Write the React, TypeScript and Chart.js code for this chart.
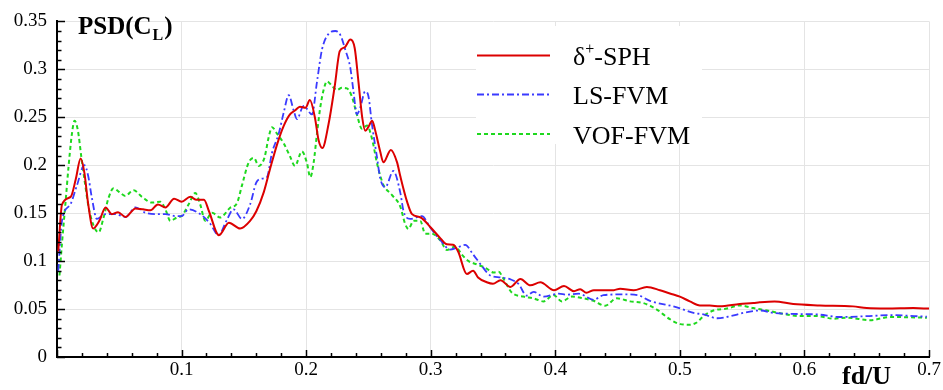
import React, { useEffect, useRef } from "react";
import { Chart, registerables } from "chart.js";

Chart.register(...registerables);

// [fd/U, PSD(C_L)] pairs
const SPH_DATA: [number, number][] = [
  [0.001, 0.110], [0.004, 0.159], [0.011, 0.167], [0.015, 0.185], [0.019, 0.207], [0.022, 0.192],
  [0.025, 0.160], [0.029, 0.134], [0.034, 0.142], [0.039, 0.156], [0.044, 0.149], [0.049, 0.151],
  [0.055, 0.146], [0.063, 0.155], [0.069, 0.154], [0.075, 0.153], [0.081, 0.159], [0.087, 0.156],
  [0.094, 0.165], [0.100, 0.162], [0.107, 0.167], [0.112, 0.164], [0.118, 0.164], [0.122, 0.152],
  [0.130, 0.127], [0.138, 0.140], [0.147, 0.134], [0.155, 0.142], [0.160, 0.152], [0.166, 0.172],
  [0.171, 0.196], [0.177, 0.223], [0.182, 0.241], [0.187, 0.253], [0.191, 0.257], [0.195, 0.261],
  [0.1995, 0.260], [0.203, 0.268], [0.207, 0.250], [0.210, 0.226], [0.213, 0.218], [0.218, 0.243],
  [0.223, 0.283], [0.227, 0.319], [0.231, 0.323], [0.2355, 0.331], [0.239, 0.322], [0.242, 0.287],
  [0.245, 0.250], [0.2475, 0.236], [0.250, 0.240], [0.253, 0.2465], [0.2555, 0.236], [0.2595, 0.214],
  [0.262, 0.203], [0.268, 0.216], [0.273, 0.203], [0.2755, 0.189], [0.281, 0.162], [0.285, 0.149],
  [0.292, 0.1455], [0.300, 0.135], [0.308, 0.1235], [0.313, 0.1175], [0.318, 0.117], [0.322, 0.110],
  [0.329, 0.0865], [0.334, 0.090], [0.338, 0.083], [0.345, 0.078], [0.350, 0.0764], [0.356, 0.080],
  [0.364, 0.073], [0.372, 0.0814], [0.380, 0.0747], [0.388, 0.078], [0.399, 0.0697], [0.407, 0.074],
  [0.415, 0.0687], [0.420, 0.0707], [0.425, 0.067], [0.431, 0.0697], [0.447, 0.0697], [0.452, 0.0713],
  [0.463, 0.0697], [0.4735, 0.073], [0.484, 0.0697], [0.492, 0.0663], [0.500, 0.063], [0.508, 0.058],
  [0.516, 0.0538], [0.524, 0.0538], [0.532, 0.0528], [0.548, 0.0552], [0.559, 0.0562], [0.564, 0.057],
  [0.576, 0.058], [0.591, 0.0552], [0.6125, 0.0538], [0.639, 0.0528], [0.650, 0.051], [0.666, 0.0505],
  [0.6875, 0.051], [0.700, 0.0505],
];

const LS_DATA: [number, number][] = [
  [0.001, 0.090], [0.004, 0.142], [0.0107, 0.159], [0.016, 0.179], [0.022, 0.200], [0.025, 0.189],
  [0.028, 0.166], [0.032, 0.144], [0.0388, 0.149], [0.0468, 0.149], [0.055, 0.146], [0.063, 0.156],
  [0.071, 0.1505], [0.079, 0.149], [0.087, 0.149], [0.095, 0.147], [0.100, 0.147], [0.1056, 0.154],
  [0.115, 0.149], [0.123, 0.139], [0.1297, 0.127], [0.136, 0.142], [0.1417, 0.154], [0.1485, 0.144],
  [0.155, 0.159], [0.160, 0.182], [0.1645, 0.186], [0.1685, 0.1875], [0.1726, 0.213], [0.178, 0.233],
  [0.182, 0.255], [0.186, 0.273], [0.190, 0.257], [0.1926, 0.248], [0.198, 0.262], [0.2047, 0.253],
  [0.2087, 0.287], [0.2127, 0.3205], [0.218, 0.337], [0.2234, 0.340], [0.2274, 0.336], [0.2314, 0.3205],
  [0.2354, 0.302], [0.238, 0.277], [0.2407, 0.253], [0.2434, 0.260], [0.2474, 0.277], [0.250, 0.272],
  [0.2528, 0.243], [0.2568, 0.209], [0.2595, 0.186], [0.2635, 0.177], [0.270, 0.194], [0.2755, 0.172],
  [0.2782, 0.152], [0.2835, 0.144], [0.293, 0.147], [0.2996, 0.135], [0.3076, 0.122], [0.3156, 0.112],
  [0.321, 0.114], [0.3277, 0.117], [0.334, 0.107], [0.341, 0.095], [0.3478, 0.085], [0.356, 0.083],
  [0.364, 0.081], [0.3706, 0.076], [0.377, 0.064], [0.3826, 0.068], [0.3906, 0.063], [0.4026, 0.066],
  [0.4093, 0.065], [0.419, 0.066], [0.4307, 0.0596], [0.4387, 0.0646], [0.4548, 0.0653], [0.466, 0.0646],
  [0.476, 0.0586], [0.4976, 0.0518], [0.511, 0.046], [0.519, 0.0444], [0.530, 0.0404], [0.541, 0.0427],
  [0.551, 0.046], [0.5645, 0.0485], [0.575, 0.046], [0.589, 0.045], [0.610, 0.0444], [0.6285, 0.0417],
  [0.652, 0.0427], [0.669, 0.0437], [0.6983, 0.042],
];

const VOF_DATA: [number, number][] = [
  [0.002, 0.085], [0.004, 0.1185], [0.0067, 0.159], [0.0093, 0.199], [0.012, 0.233], [0.0141, 0.2465],
  [0.0168, 0.236], [0.0195, 0.209], [0.0227, 0.179], [0.0254, 0.156], [0.0294, 0.137], [0.0334, 0.130],
  [0.0374, 0.1455], [0.0414, 0.166], [0.0454, 0.176], [0.050, 0.172], [0.0548, 0.168], [0.0615, 0.174],
  [0.0682, 0.167], [0.0762, 0.161], [0.083, 0.162], [0.087, 0.154], [0.091, 0.142], [0.0963, 0.1455],
  [0.100, 0.147], [0.1056, 0.159], [0.111, 0.171], [0.115, 0.159], [0.119, 0.142], [0.1244, 0.1505],
  [0.131, 0.1455], [0.139, 0.1556], [0.1445, 0.1606], [0.1485, 0.179], [0.1538, 0.2026], [0.158, 0.2077],
  [0.162, 0.1993], [0.1665, 0.2077], [0.170, 0.2296], [0.1726, 0.2397], [0.1766, 0.233], [0.182, 0.2228],
  [0.187, 0.2094], [0.191, 0.1993], [0.1966, 0.2144], [0.2006, 0.2026], [0.2033, 0.1875], [0.206, 0.2026],
  [0.2087, 0.233], [0.2113, 0.260], [0.214, 0.2784], [0.2167, 0.2875], [0.2207, 0.2828], [0.2247, 0.2784],
  [0.2287, 0.2808], [0.2327, 0.2801], [0.2367, 0.2717], [0.2407, 0.253], [0.2448, 0.238], [0.2488, 0.2414],
  [0.2528, 0.228], [0.2568, 0.2026], [0.2595, 0.189], [0.2622, 0.179], [0.2688, 0.169], [0.2755, 0.157],
  [0.2795, 0.1387], [0.2822, 0.1336], [0.2862, 0.142], [0.2916, 0.142], [0.2956, 0.1286], [0.301, 0.1286],
  [0.3076, 0.1218], [0.313, 0.1117], [0.3197, 0.1152], [0.325, 0.1067], [0.3304, 0.100], [0.337, 0.0966],
  [0.3437, 0.0932], [0.3504, 0.0882], [0.3545, 0.0889], [0.3585, 0.0814], [0.365, 0.0673], [0.3745, 0.063],
  [0.3825, 0.0612], [0.3905, 0.058], [0.3985, 0.0646], [0.4053, 0.058], [0.4133, 0.063], [0.4226, 0.0612],
  [0.4307, 0.0586], [0.440, 0.0535], [0.4494, 0.0612], [0.460, 0.058], [0.4708, 0.0562], [0.4815, 0.0495],
  [0.492, 0.0394], [0.5003, 0.0343], [0.508, 0.0336], [0.5135, 0.036], [0.519, 0.0427], [0.527, 0.0485],
  [0.5378, 0.0505], [0.5485, 0.0538], [0.559, 0.051], [0.570, 0.0485], [0.583, 0.045], [0.5965, 0.0427],
  [0.610, 0.0427], [0.6235, 0.040], [0.634, 0.041], [0.6528, 0.0384], [0.6688, 0.0417], [0.6983, 0.041],
];

const SERIES_LABELS = ["δ⁺-SPH", "LS-FVM", "VOF-FVM"];
const X_TICKS = [0, 0.1, 0.2, 0.3, 0.4, 0.5, 0.6, 0.7];
const Y_TICKS = [0, 0.05, 0.1, 0.15, 0.2, 0.25, 0.3, 0.35];
const Y_TITLE = "PSD(C";
const Y_TITLE_SUB = "L";
const X_TITLE = "fd/U";

const SERIF = "'Liberation Serif', 'Times New Roman', serif";
const COLORS = ["#dc0000", "#3a3aff", "#1ed81e"];
const DASHES: number[][] = [[], [7, 3, 2, 3], [4, 3]];
const WIDTHS = [2, 1.8, 2];

const decorPlugin = {
  id: "decor",
  beforeDatasetsDraw(chart: any) {
    const ctx = chart.ctx as CanvasRenderingContext2D;
    ctx.save();
    // legend box (covers gridlines)
    ctx.fillStyle = "#ffffff";
    ctx.fillRect(476, 26, 226, 118);
    const rows = [55.5, 94.5, 134];
    rows.forEach((y, i) => {
      ctx.strokeStyle = COLORS[i];
      ctx.lineWidth = WIDTHS[i];
      ctx.setLineDash(DASHES[i]);
      ctx.beginPath();
      ctx.moveTo(477, y);
      ctx.lineTo(550, y);
      ctx.stroke();
    });
    ctx.setLineDash([]);
    ctx.fillStyle = "#000";
    ctx.textBaseline = "alphabetic";
    ctx.textAlign = "left";
    // first label with superscript
    const base = [65, 104, 143.5];
    ctx.font = `26px ${SERIF}`;
    const full = SERIES_LABELS[0];
    const delta = full.slice(0, 1);
    const rest = full.slice(2);
    let x = 573;
    ctx.fillText(delta, x, base[0]);
    x += ctx.measureText(delta).width;
    ctx.font = `16px ${SERIF}`;
    ctx.fillText("+", x, base[0] - 11);
    x += ctx.measureText("+").width;
    ctx.font = `26px ${SERIF}`;
    ctx.fillText(rest, x, base[0]);
    ctx.fillText(SERIES_LABELS[1], 573, base[1]);
    ctx.fillText(SERIES_LABELS[2], 573, base[2]);
    ctx.restore();
  },
  afterDraw(chart: any) {
    const ctx = chart.ctx as CanvasRenderingContext2D;
    const xs = chart.scales.x;
    const ys = chart.scales.y;
    const area = chart.chartArea;
    ctx.save();
    ctx.strokeStyle = "#000";
    ctx.lineWidth = 1.5;
    // y ticks inward
    for (let i = 0; i <= 35; i++) {
      const py = Math.round(ys.getPixelForValue(i / 100)) + 0.5;
      const len = i % 5 === 0 ? 8 : 4.5;
      ctx.beginPath();
      ctx.moveTo(area.left, py);
      ctx.lineTo(area.left + len, py);
      ctx.stroke();
    }
    // x ticks inward
    for (let i = 0; i <= 35; i++) {
      const px = Math.round(xs.getPixelForValue(i * 0.02)) + 0.5;
      const len = i % 5 === 0 ? 7 : 4;
      ctx.beginPath();
      ctx.moveTo(px, area.bottom);
      ctx.lineTo(px, area.bottom - len);
      ctx.stroke();
    }
    // titles
    ctx.fillStyle = "#000";
    ctx.textAlign = "left";
    ctx.textBaseline = "alphabetic";
    ctx.font = `bold 25px ${SERIF}`;
    let x = 78;
    ctx.fillText(Y_TITLE, x, 34);
    x += ctx.measureText(Y_TITLE).width;
    ctx.font = `bold 16px ${SERIF}`;
    ctx.fillText(Y_TITLE_SUB, x + 1, 40);
    x += ctx.measureText(Y_TITLE_SUB).width + 2;
    ctx.font = `bold 25px ${SERIF}`;
    ctx.fillText(")", x, 34);
    ctx.font = `bold 26px ${SERIF}`;
    ctx.fillText(X_TITLE, 842, 384);
    ctx.restore();
  },
};

export default function App() {
  const ref = useRef<HTMLCanvasElement | null>(null);
  useEffect(() => {
    if (!ref.current) return;
    const all = [SPH_DATA, LS_DATA, VOF_DATA];
    const chart = new Chart(ref.current, {
      type: "line",
      data: {
        datasets: all.map((d, i) => ({
          label: SERIES_LABELS[i],
          data: d.map(([f, p]) => ({ x: f, y: p })),
          borderColor: COLORS[i],
          borderWidth: WIDTHS[i],
          borderDash: DASHES[i],
          pointRadius: 0,
          fill: false,
          cubicInterpolationMode: "monotone" as const,
        })),
      },
      options: {
        responsive: false,
        animation: false,
        events: [],
        layout: { padding: { left: 0, right: 14, top: 10, bottom: 0 } },
        plugins: { legend: { display: false }, tooltip: { enabled: false } },
        scales: {
          x: {
            type: "linear",
            min: 0,
            max: 0.7,
            afterBuildTicks: (s: any) => {
              s.ticks = X_TICKS.map((v) => ({ value: v }));
            },
            afterFit: (s: any) => {
              s.height = 33;
            },
            ticks: {
              color: "#000",
              font: { family: SERIF, size: 19 },
              padding: 2,
              maxRotation: 0,
              callback: (v: any) => (v === 0 ? "" : String(+Number(v).toFixed(2))),
            },
            grid: { color: "#e4e4e4", lineWidth: 1, drawTicks: false },
            border: { display: true, color: "#000", width: 2 },
          },
          y: {
            type: "linear",
            min: 0,
            max: 0.35,
            afterBuildTicks: (s: any) => {
              s.ticks = Y_TICKS.map((v) => ({ value: v }));
            },
            afterFit: (s: any) => {
              s.width = 57;
            },
            ticks: {
              color: "#000",
              font: { family: SERIF, size: 19 },
              padding: 10,
              callback: (v: any) => String(+Number(v).toFixed(2)),
            },
            grid: { color: "#e4e4e4", lineWidth: 1, drawTicks: false },
            border: { display: true, color: "#000", width: 2 },
          },
        },
      },
      plugins: [decorPlugin],
    });
    return () => chart.destroy();
  }, []);
  return (
    <div style={{ position: "fixed", left: 0, top: 0, width: 943, height: 390, background: "#fff" }}>
      <canvas ref={ref} width={943} height={390} style={{ display: "block" }} />
    </div>
  );
}
